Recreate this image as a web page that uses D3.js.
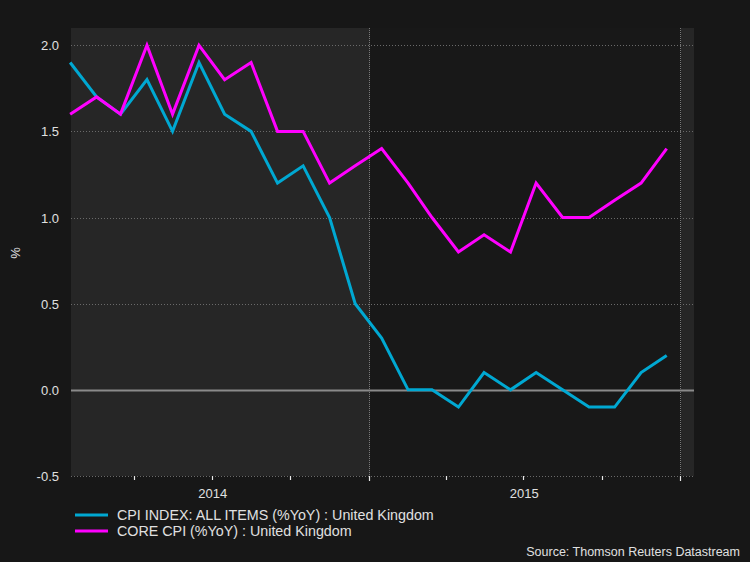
<!DOCTYPE html>
<html><head><meta charset="utf-8">
<script src="https://cdn.jsdelivr.net/npm/d3@7"></script>
<style>
html,body{margin:0;padding:0;background:#171717;}
svg{display:block;}
text{font-family:"Liberation Sans",Arial,sans-serif;}
</style></head>
<body>
<script>
const months = ["2014-01","2014-02","2014-03","2014-04","2014-05","2014-06","2014-07","2014-08","2014-09","2014-10","2014-11","2014-12",
"2015-01","2015-02","2015-03","2015-04","2015-05","2015-06","2015-07","2015-08","2015-09","2015-10","2015-11","2015-12"];
const cpi  = [1.9,1.7,1.6,1.8,1.5,1.9,1.6,1.5,1.2,1.3,1.0,0.5, 0.3,0.0,0.0,-0.1,0.1,0.0,0.1,0.0,-0.1,-0.1,0.1,0.2];
const core = [1.6,1.7,1.6,2.0,1.6,2.0,1.8,1.9,1.5,1.5,1.2,1.3, 1.4,1.2,1.0,0.8,0.9,0.8,1.2,1.0,1.0,1.1,1.2,1.4];
const yTicks = [-0.5,0.0,0.5,1.0,1.5,2.0];
const yearLabels = ["2014","2015"];
const seriesNames = ["CPI INDEX: ALL ITEMS (%YoY) : United Kingdom","CORE CPI (%YoY) : United Kingdom"];
const seriesColors = ["#00a8d2","#ff00ff"];

const W=750,H=562;
const m={l:71,r:56,t:28,b:86};
const svg=d3.select("body").append("svg").attr("width",W).attr("height",H);
svg.append("rect").attr("width",W).attr("height",H).attr("fill","#171717");

const parse=d3.timeParse("%Y-%m-%d");
const dates=months.map(s=>parse(s+"-15"));
const x=d3.scaleTime().domain([parse("2014-01-16"),parse("2016-01-16")]).range([m.l,W-m.r]);
const y=d3.scaleLinear().domain([-0.5,2.1]).range([H-m.b,m.t]);

// year bands
const bands=[[parse("2014-01-16"),parse("2015-01-01"),"#262626"],[parse("2015-01-01"),parse("2016-01-01"),"#181818"],[parse("2016-01-01"),parse("2016-01-16"),"#262626"]];
svg.selectAll(".band").data(bands).enter().append("rect")
 .attr("x",d=>Math.round(x(d[0]))).attr("width",d=>Math.round(x(d[1]))-Math.round(x(d[0])))
 .attr("y",m.t).attr("height",H-m.b-m.t).attr("fill",d=>d[2]);

// horizontal grid
svg.selectAll(".grid").data(yTicks.filter(v=>v!==0)).enter().append("line")
 .attr("x1",m.l).attr("x2",W-m.r).attr("y1",d=>Math.round(y(d))+0.5).attr("y2",d=>Math.round(y(d))+0.5)
 .attr("stroke","#6a6a6a").attr("stroke-width",1).attr("stroke-dasharray","1,2");
// year vertical lines
[parse("2015-01-01"),parse("2016-01-01")].forEach(d=>{
 svg.append("line").attr("x1",Math.round(x(d))-0.5).attr("x2",Math.round(x(d))-0.5).attr("y1",m.t).attr("y2",H-m.b)
  .attr("stroke","#7a7a7a").attr("stroke-dasharray","1,1");
});
// zero line
svg.append("line").attr("x1",m.l).attr("x2",W-m.r).attr("y1",Math.round(y(0))+0.5).attr("y2",Math.round(y(0))+0.5)
 .attr("stroke","#8a8a8a").attr("stroke-width",2);

// y labels
svg.selectAll(".yl").data(yTicks).enter().append("text")
 .attr("x",59).attr("y",d=>y(d)+5).attr("text-anchor","end")
 .attr("fill","#e0e0e0").attr("font-size",13).text(d=>d.toFixed(1));
svg.append("text").attr("transform","translate(20,253) rotate(-90)").attr("text-anchor","middle")
 .attr("fill","#e0e0e0").attr("font-size",13).text("%");

// x ticks (quarterly)
const qt=[parse("2014-04-01"),parse("2014-07-01"),parse("2014-10-01"),parse("2015-01-01"),parse("2015-04-01"),parse("2015-07-01"),parse("2015-10-01"),parse("2016-01-01")];
svg.selectAll(".xt").data(qt).enter().append("line")
 .attr("x1",d=>Math.round(x(d))-0.5).attr("x2",d=>Math.round(x(d))-0.5)
 .attr("y1",H-m.b).attr("y2",d=>H-m.b+(d.getMonth()===0?5:4))
 .attr("stroke","#e8e8e8").attr("stroke-width",1.2);
svg.selectAll(".xl").data(yearLabels).enter().append("text")
 .attr("x",d=>x(parse(d+"-07-01"))).attr("y",H-m.b+22).attr("text-anchor","middle")
 .attr("fill","#e0e0e0").attr("font-size",13).text(d=>d);

// lines
const line=d3.line().x((d,i)=>x(dates[i])).y(d=>y(d));
[cpi,core].forEach((s,k)=>{
 svg.append("path").datum(s).attr("d",line).attr("fill","none")
  .attr("stroke",seriesColors[k]).attr("stroke-width",3).attr("stroke-linejoin","miter");
});

// legend
seriesNames.forEach((n,k)=>{
 const ly=515+k*16;
 svg.append("line").attr("x1",75).attr("x2",108).attr("y1",ly).attr("y2",ly).attr("stroke",seriesColors[k]).attr("stroke-width",3);
 svg.append("text").attr("x",117).attr("y",ly+5).attr("fill","#e0e0e0").attr("font-size",14.3).text(n);
});
svg.append("text").attr("x",740).attr("y",556).attr("text-anchor","end").attr("fill","#e0e0e0").attr("font-size",12.5)
 .text("Source: Thomson Reuters Datastream");
</script>
</body></html>
